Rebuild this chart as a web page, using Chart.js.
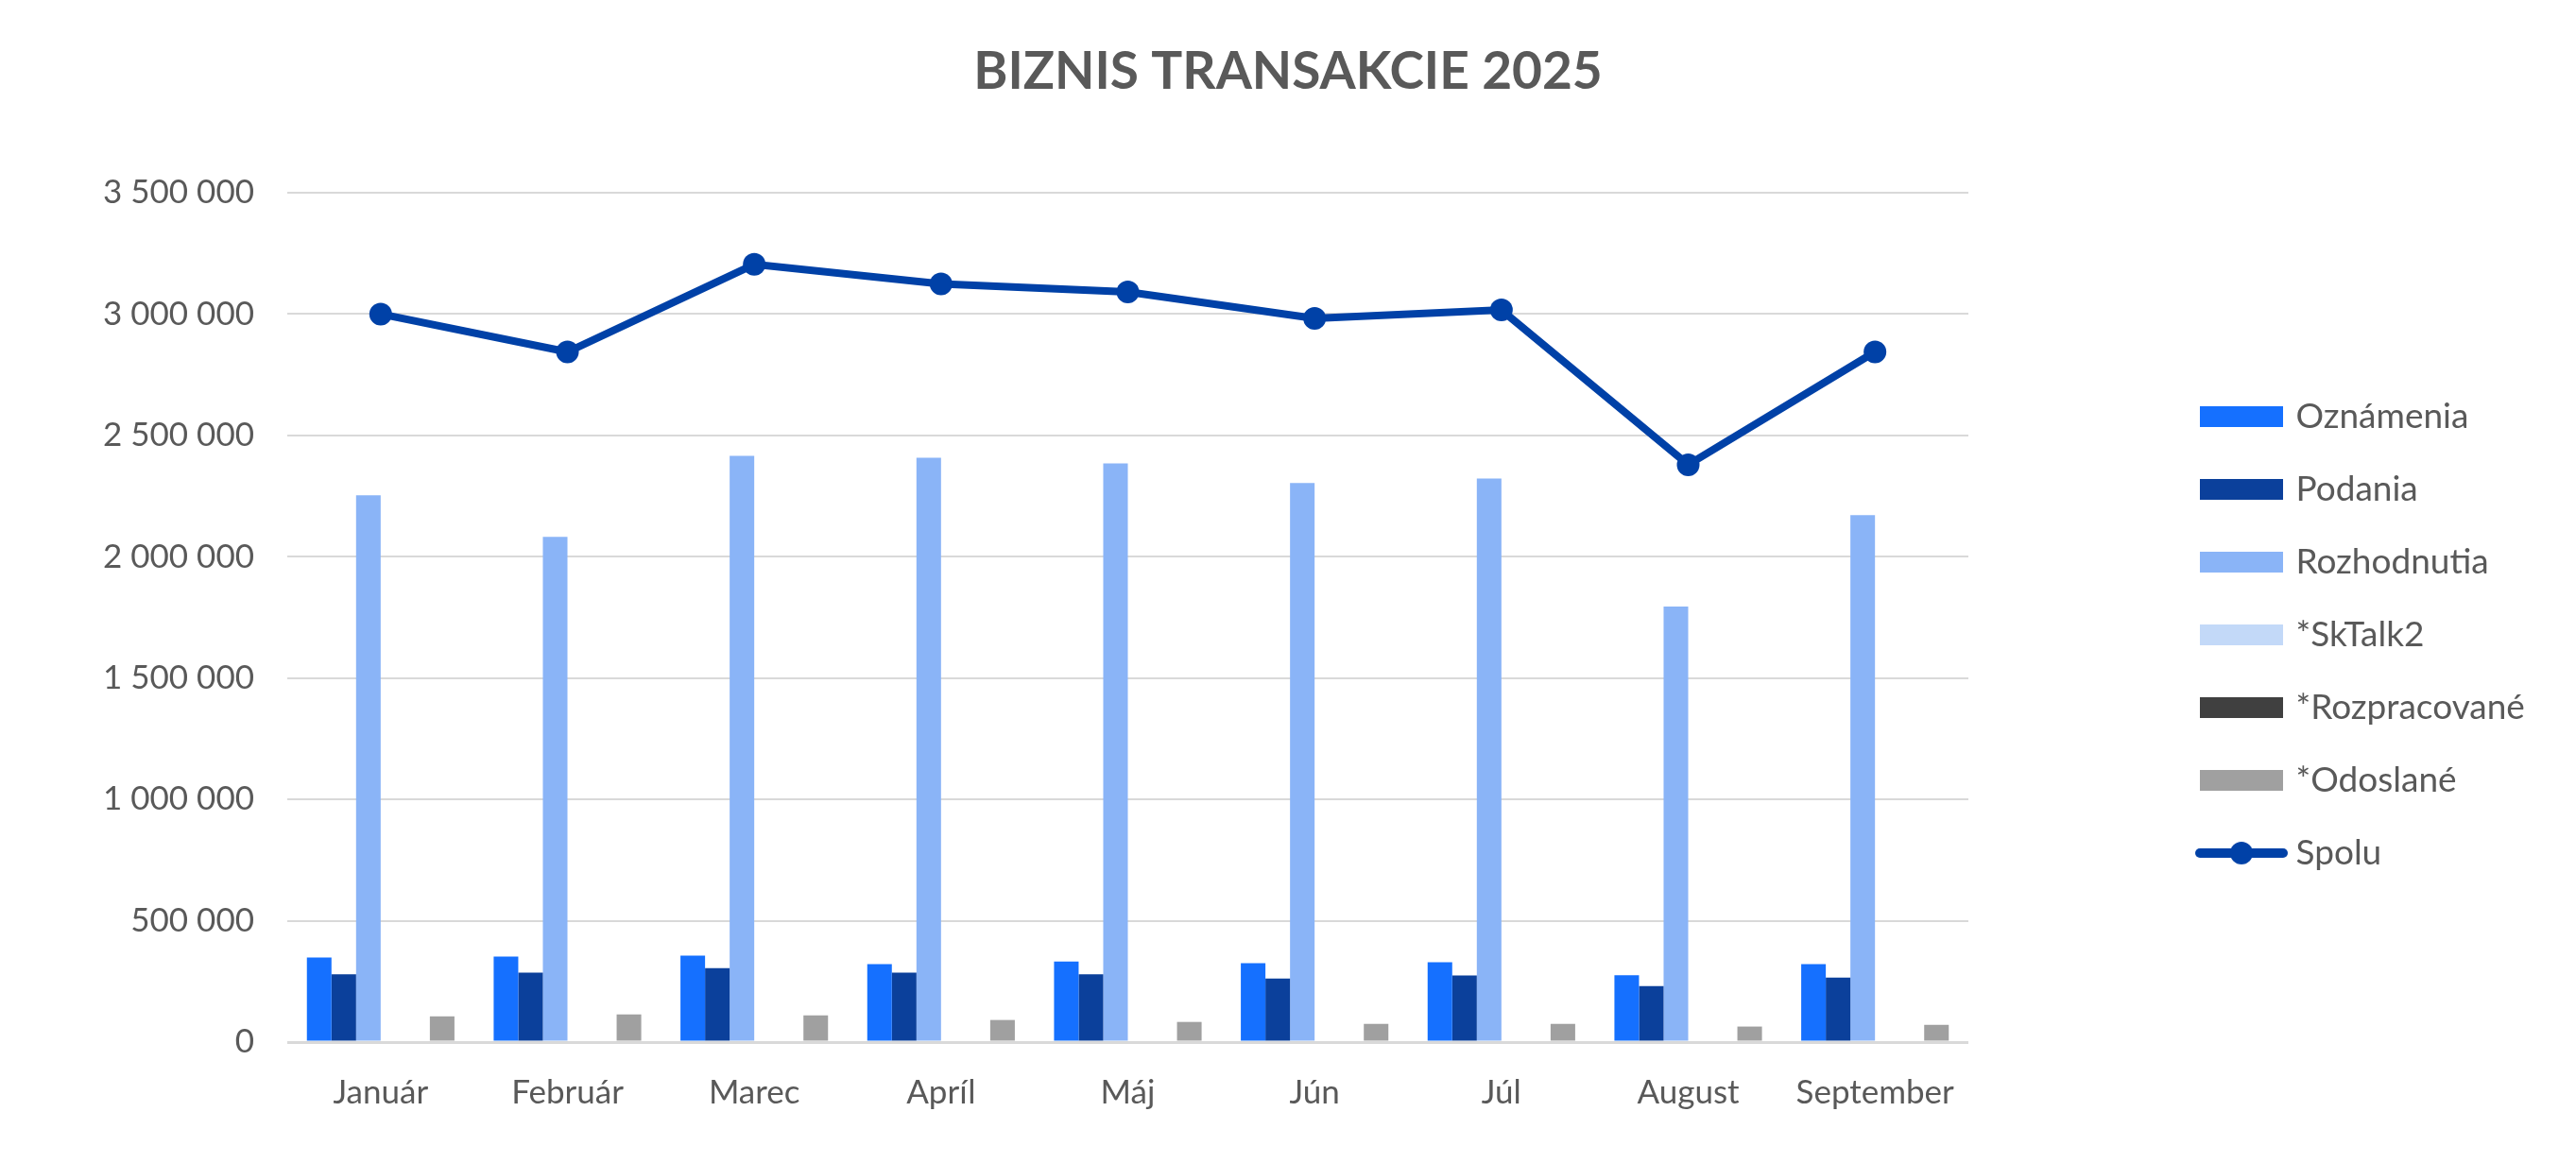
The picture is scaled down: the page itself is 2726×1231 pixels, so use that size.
<!DOCTYPE html>
<html>
<head>
<meta charset="utf-8">
<title>Biznis transakcie 2025</title>
<script src="https://cdn.jsdelivr.net/npm/chart.js@4.4.1/dist/chart.umd.min.js"></script>
<style>
  html, body { margin: 0; padding: 0; background: #fff; }
  canvas { display: block; }
</style>
</head>
<body>
<canvas id="chart" width="2726" height="1231"></canvas>
<script>
// values
const months = ['Január', 'Február', 'Marec', 'Apríl', 'Máj', 'Jún', 'Júl', 'August', 'September'];
const oznamenia = [348000, 352000, 356000, 321000, 332000, 325000, 329000, 275000, 321000];
const podania = [279000, 286000, 305000, 286000, 279000, 262000, 274000, 231000, 266000];
const rozhodnutia = [2253000, 2082000, 2416000, 2408000, 2385000, 2304000, 2322000, 1795000, 2171000];
const skTalk2 = [0, 0, 0, 0, 0, 0, 0, 0, 0];
const rozpracovane = [0, 0, 0, 0, 0, 0, 0, 0, 0];
const odoslane = [106000, 114000, 110000, 91000, 83000, 75000, 75000, 64000, 71000];
const spolu = [3000000, 2844000, 3205000, 3124000, 3091000, 2982000, 3017000, 2379000, 2844000];
const yTicks = [0, 500000, 1000000, 1500000, 2000000, 2500000, 3000000, 3500000];

const textColor = '#595959';
const gridColor = '#d9d9d9';
const lineColor = '#0041a7';

// legend symbols as small canvases
function rectSymbol(color) {
  const c = document.createElement('canvas');
  c.width = 88; c.height = 22;
  const g = c.getContext('2d');
  g.fillStyle = color;
  g.fillRect(0, 0, 88, 22);
  return c;
}
function lineSymbol(color) {
  const c = document.createElement('canvas');
  c.width = 98; c.height = 26;
  const g = c.getContext('2d');
  g.strokeStyle = color;
  g.lineWidth = 10;
  g.lineCap = 'round';
  g.beginPath();
  g.moveTo(5, 13);
  g.lineTo(93, 13);
  g.stroke();
  g.fillStyle = color;
  g.beginPath();
  g.arc(49, 13, 12, 0, Math.PI * 2);
  g.fill();
  return c;
}

function spaced(v) {
  return String(v).replace(/\B(?=(\d{3})+(?!\d))/g, ' ');
}

// keep the legend a fixed width so the plot ends where it does in the picture
const legendWidth = {
  id: 'legendWidth',
  beforeLayout(chart) {
    const lg = chart.legend;
    if (lg && !lg._fixed) {
      const fit = lg.fit.bind(lg);
      lg.fit = function () { fit(); this.width = 433; };
      lg._fixed = true;
    }
  }
};

function bar(label, data, color) {
  return { type: 'bar', label, data, backgroundColor: color, borderWidth: 0, symbol: rectSymbol(color) };
}

document.fonts.load('35px Lato').then(() => {
  const ctx = document.getElementById('chart').getContext('2d');

  new Chart(ctx, {
    data: {
      labels: months,
      datasets: [
        bar('Oznámenia', oznamenia, '#1570ff'),
        bar('Podania', podania, '#0b409b'),
        bar('Rozhodnutia', rozhodnutia, '#8ab4f7'),
        bar('*SkTalk2', skTalk2, '#c3d9f8'),
        bar('*Rozpracované', rozpracovane, '#404040'),
        bar('*Odoslané', odoslane, '#a0a0a0'),
        {
          type: 'line',
          label: 'Spolu',
          data: spolu,
          borderColor: lineColor,
          backgroundColor: lineColor,
          borderWidth: 8,
          pointRadius: 12,
          pointBorderWidth: 0,
          tension: 0,
          symbol: lineSymbol(lineColor)
        }
      ]
    },
    options: {
      responsive: false,
      devicePixelRatio: 1,
      animation: false,
      categoryPercentage: 0.79,
      barPercentage: 1,
      layout: { padding: 0 },
      plugins: {
        tooltip: { enabled: false },
        title: {
          display: true,
          text: 'BIZNIS TRANSAKCIE 2025',
          color: textColor,
          font: { family: 'Lato', size: 55, weight: 'bold' },
          padding: { top: 43, bottom: 95 }
        },
        legend: {
          position: 'right',
          title: { display: true, text: '', font: { size: 94 }, padding: 0 },
          labels: {
            usePointStyle: true,
            pointStyleWidth: 78,
            padding: 40,
            color: textColor,
            font: { family: 'Lato', size: 37 },
            generateLabels: chart => chart.data.datasets.map((ds, i) => ({
              text: ds.label,
              pointStyle: ds.symbol,
              fillStyle: ds.backgroundColor,
              strokeStyle: ds.backgroundColor,
              lineWidth: 0,
              fontColor: textColor,
              hidden: false,
              datasetIndex: i
            }))
          }
        }
      },
      scales: {
        x: {
          grid: { display: false, drawTicks: false },
          border: { display: false },
          ticks: { color: textColor, font: { family: 'Lato', size: 35 }, padding: 33 },
          afterFit: s => { s.height = 128; }
        },
        y: {
          min: 0,
          max: 3500000,
          afterBuildTicks: s => { s.ticks = yTicks.map(v => ({ value: v })); },
          grid: {
            color: gridColor,
            lineWidth: c => (c.tick && c.tick.value === 0 ? 3 : 2),
            drawTicks: false
          },
          border: { display: false },
          ticks: {
            color: textColor,
            font: { family: 'Lato', size: 35 },
            padding: 35,
            callback: v => spaced(v)
          },
          afterFit: s => { s.width = 304; }
        },
        gap: {
          type: 'linear',
          position: 'right',
          display: true,
          grid: { display: false, drawTicks: false },
          border: { display: false },
          ticks: { display: false },
          afterFit: s => { s.width = 210; }
        }
      }
    },
    plugins: [legendWidth]
  });
});
</script>
</body>
</html>
